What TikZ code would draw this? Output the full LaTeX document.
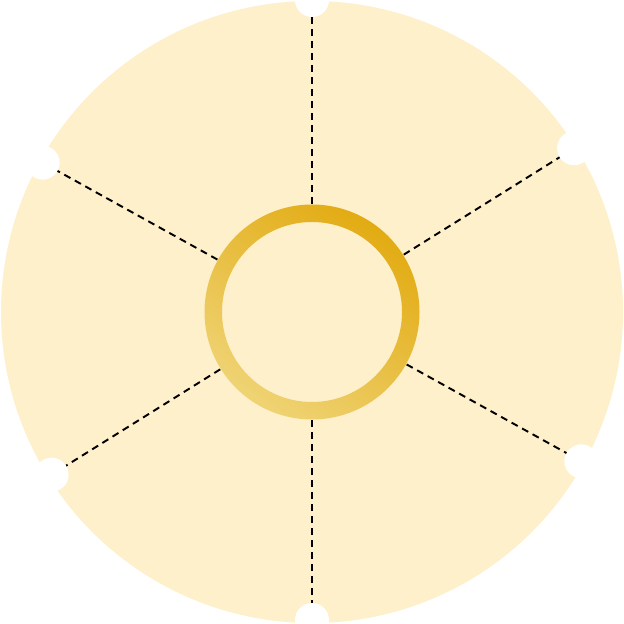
\documentclass[tikz,border=0pt]{standalone}
\usepackage{tikz}
\usetikzlibrary{calc}
\definecolor{cream}{HTML}{FDF0CA}
\definecolor{ringtop}{HTML}{E2AB12}
\definecolor{ringbot}{HTML}{EFD374}
\tikzset{spoke/.style={black,line width=0.55pt,dash pattern=on 0.7mm off 0.5mm},
  notch/.style={fill=white,draw=none}}
\begin{document}
\begin{tikzpicture}
\useasboundingbox (0,0) rectangle (6.24,6.24);
\coordinate (c) at (3.12,3.12);
\fill[cream] (c) circle (3.11);
\node[circle,minimum size=21.5mm,inner sep=0pt] (hub) at (c) {};
% notches round the rim
\foreach \a/\r [count=\i] in {90/3.12,32/3.09,-29/3.08,270/3.08,212/3.07,151/3.08}{
  \coordinate (n\i) at ($(c)+(\a:\r)$);
  \draw[spoke] (hub.\a) -- (n\i);
  \fill[notch] (n\i) circle (0.17);
}
\shade[even odd rule,top color=ringtop,bottom color=ringbot,shading angle=-35]
  (c) circle (1.075) (c) circle (0.90);
\end{tikzpicture}
\end{document}
